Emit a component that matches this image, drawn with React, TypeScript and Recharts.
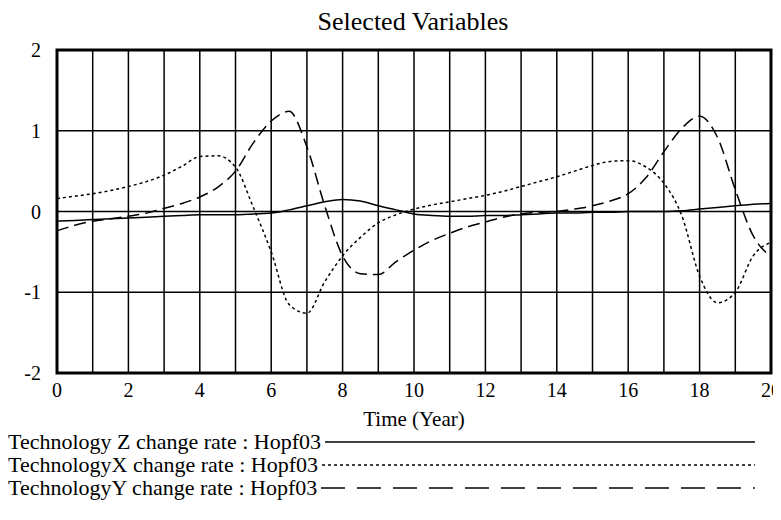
import React from "react";
import {
  CartesianGrid,
  Line,
  LineChart,
  ReferenceArea,
  XAxis,
  YAxis,
} from "recharts";

const times = [
  0, 0.5, 1, 1.5, 2, 2.5, 3, 3.5, 4, 4.5, 5, 5.5, 6, 6.5, 7, 7.5, 8, 8.5, 9,
  9.5, 10, 10.5, 11, 11.5, 12, 12.5, 13, 13.5, 14, 14.5, 15, 15.5, 16, 16.5, 17,
  17.5, 18, 18.5, 19, 19.5, 20,
];
const techZ = [
  -0.12, -0.11, -0.1, -0.09, -0.08, -0.07, -0.06, -0.05, -0.04, -0.04, -0.04,
  -0.03, -0.02, 0.02, 0.07, 0.12, 0.15, 0.13, 0.07, 0.02, -0.03, -0.05, -0.06,
  -0.06, -0.05, -0.05, -0.04, -0.03, -0.02, -0.02, -0.01, -0.01, 0, 0, 0, 0.01,
  0.03, 0.05, 0.07, 0.09, 0.1,
];
const techX = [
  0.16, 0.19, 0.22, 0.26, 0.31, 0.37, 0.45, 0.56, 0.68, 0.69, 0.55, 0.05, -0.5,
  -1.15, -1.26, -0.87, -0.55, -0.32, -0.14, -0.04, 0.03, 0.08, 0.12, 0.16, 0.2,
  0.25, 0.31, 0.37, 0.43, 0.5, 0.57, 0.62, 0.63, 0.55, 0.35, -0.05, -0.8, -1.13,
  -1.0, -0.55, -0.38,
];
const techY = [
  -0.24, -0.17, -0.12, -0.09, -0.06, -0.02, 0.04, 0.1, 0.18, 0.3, 0.5, 0.85,
  1.12, 1.24, 0.8, 0.07, -0.55, -0.77, -0.78, -0.62, -0.48, -0.36, -0.27, -0.19,
  -0.13, -0.07, -0.03, -0.01, 0, 0.03, 0.07, 0.13, 0.22, 0.42, 0.74, 1.03, 1.18,
  0.92, 0.27, -0.3, -0.56,
];
const xTicks = [0, 2, 4, 6, 8, 10, 12, 14, 16, 18, 20];
const yTicks = [-2, -1, 0, 1, 2];
const gridX = [0, 1, 2, 3, 4, 5, 6, 7, 8, 9, 10, 11, 12, 13, 14, 15, 16, 17, 18, 19, 20];
const legendNames = [
  "Technology Z change rate : Hopf03",
  "TechnologyX change rate : Hopf03",
  "TechnologyY change rate : Hopf03",
];

const data = times.map((t, i) => ({
  time: t,
  z: techZ[i],
  x: techX[i],
  y: techY[i],
}));

const font = '"Liberation Serif", "DejaVu Serif", serif';
const dashes = ["0", "3 3", "24 12"];

// custom ticks so the font size sticks
const XTick = (props: any) => (
  <text
    x={props.x}
    y={props.y + 14}
    textAnchor="middle"
    fontSize={20}
    fontFamily={font}
    fill="#000"
  >
    {props.payload.value}
  </text>
);

const YTick = (props: any) => (
  <text
    x={props.x - 2}
    y={props.y + 7}
    textAnchor="end"
    fontSize={20}
    fontFamily={font}
    fill="#000"
  >
    {props.payload.value}
  </text>
);

const App = () => {
  return (
    <div
      style={{
        position: "relative",
        width: 781,
        height: 512,
        margin: -8,
        fontFamily: font,
      }}
    >
      <div
        style={{
          position: "absolute",
          top: 7,
          left: 0,
          width: 826,
          textAlign: "center",
          fontSize: 26,
          lineHeight: "30px",
        }}
      >
        Selected Variables
      </div>
      <LineChart
        width={781}
        height={440}
        data={data}
        margin={{ top: 50, right: 10, left: 17, bottom: 12 }}
      >
        <CartesianGrid
          stroke="#000"
          strokeWidth={1.5}
          verticalValues={gridX}
          horizontalValues={yTicks}
        />
        <ReferenceArea
          x1={0}
          x2={20}
          y1={-2}
          y2={2}
          fill="none"
          stroke="#000"
          strokeWidth={3}
        />
        <XAxis
          dataKey="time"
          type="number"
          domain={[0, 20]}
          ticks={xTicks}
          axisLine={false}
          tickLine={false}
          tickMargin={4}
          height={55}
          tick={<XTick />}
          label={{
            value: "Time (Year)",
            position: "insideBottom",
            offset: 2,
            fill: "#000",
            fontSize: 21,
            fontFamily: font,
          }}
        />
        <YAxis
          type="number"
          domain={[-2, 2]}
          ticks={yTicks}
          axisLine={false}
          tickLine={false}
          width={40}
          tickMargin={8}
          tick={<YTick />}
        />
        <Line
          type="monotone"
          dataKey="z"
          stroke="#000"
          strokeWidth={1.5}
          dot={false}
          isAnimationActive={false}
        />
        <Line
          type="monotone"
          dataKey="x"
          stroke="#000"
          strokeWidth={1.5}
          strokeDasharray="3 3"
          dot={false}
          isAnimationActive={false}
        />
        <Line
          type="monotone"
          dataKey="y"
          stroke="#000"
          strokeWidth={1.5}
          strokeDasharray="12 6"
          dot={false}
          isAnimationActive={false}
        />
      </LineChart>
      <div style={{ position: "absolute", left: 8, top: 430, width: 747, fontSize: 22 }}>
        {legendNames.map((name, i) => (
          <div
            key={name}
            style={{
              display: "flex",
              alignItems: "center",
              height: 23,
              lineHeight: "23px",
              whiteSpace: "nowrap",
            }}
          >
            <span>{name}</span>
            <svg height={10} style={{ flex: 1, marginLeft: 4 }}>
              <line
                x1={0}
                y1={5}
                x2="100%"
                y2={5}
                stroke="#000"
                strokeWidth={1.3}
                strokeDasharray={dashes[i]}
              />
            </svg>
          </div>
        ))}
      </div>
    </div>
  );
};

export default App;
